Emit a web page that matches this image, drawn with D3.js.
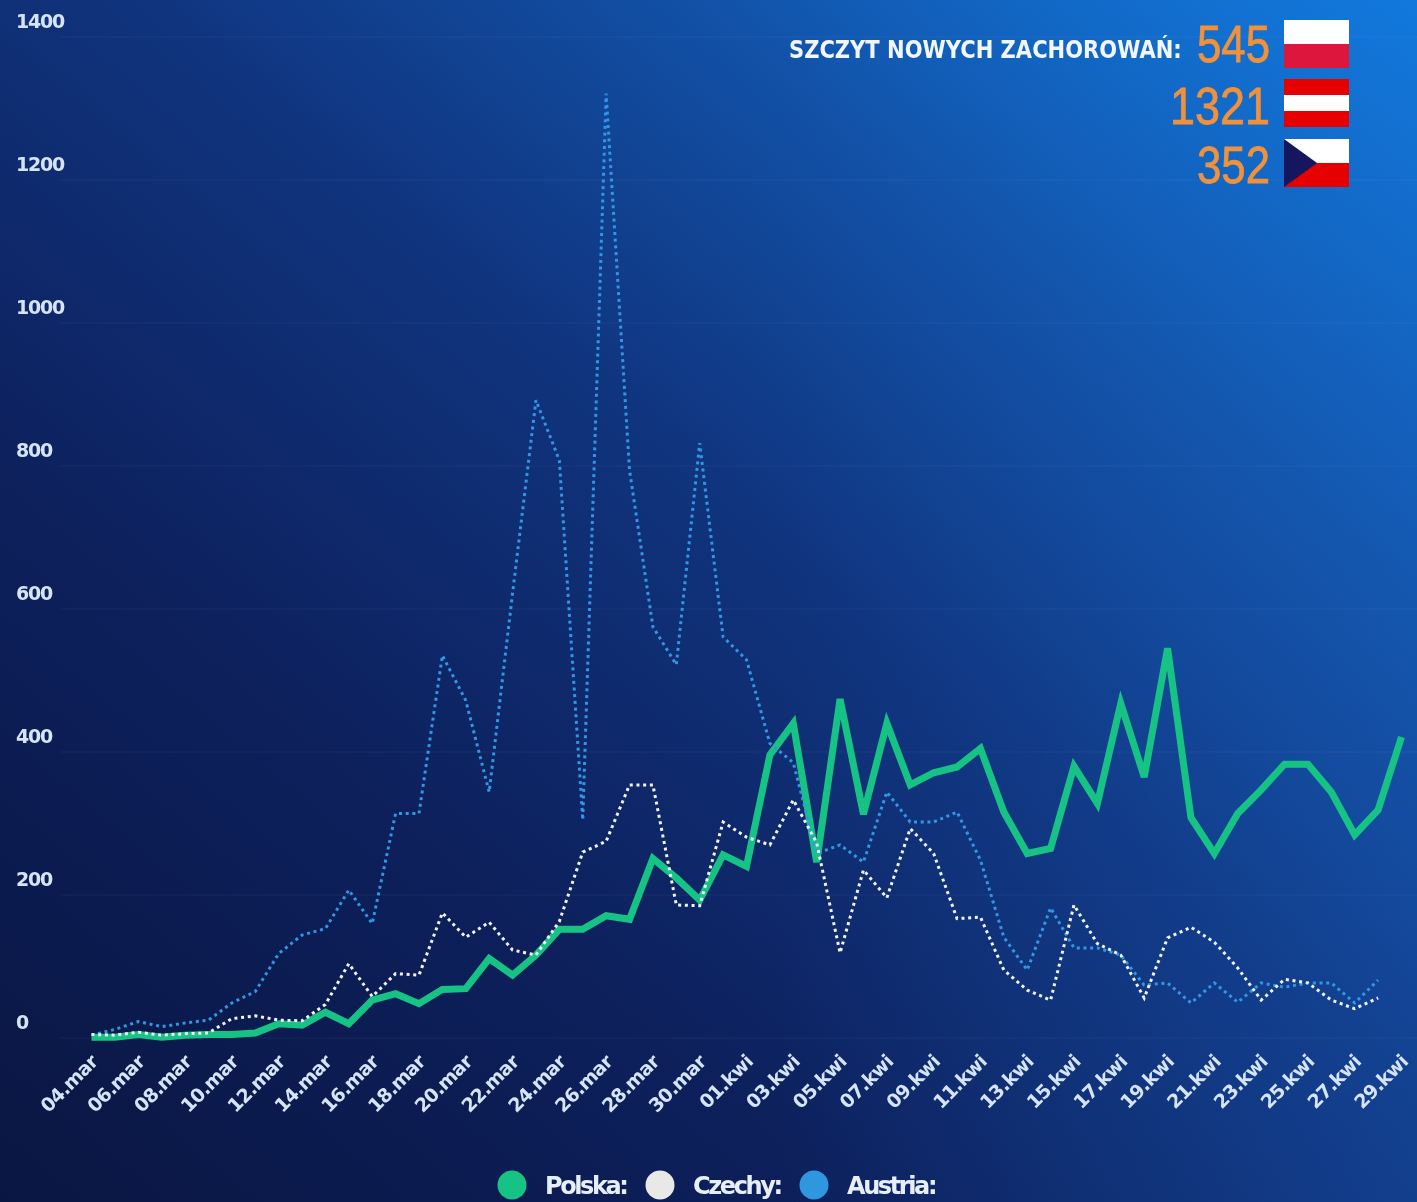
<!DOCTYPE html>
<html><head><meta charset="utf-8">
<script src="https://cdnjs.cloudflare.com/ajax/libs/d3/7.8.5/d3.min.js"></script>
<style>
html,body{margin:0;padding:0;background:#0a1745;overflow:hidden}
svg{display:block}
text{font-family:"DejaVu Sans",sans-serif;font-weight:700}
</style></head><body>
<svg id="c" width="1417" height="1202"></svg>
<script>
const dates=["04.mar","05.mar","06.mar","07.mar","08.mar","09.mar","10.mar","11.mar","12.mar","13.mar","14.mar","15.mar","16.mar","17.mar","18.mar","19.mar","20.mar","21.mar","22.mar","23.mar","24.mar","25.mar","26.mar","27.mar","28.mar","29.mar","30.mar","31.mar","01.kwi","02.kwi","03.kwi","04.kwi","05.kwi","06.kwi","07.kwi","08.kwi","09.kwi","10.kwi","11.kwi","12.kwi","13.kwi","14.kwi","15.kwi","16.kwi","17.kwi","18.kwi","19.kwi","20.kwi","21.kwi","22.kwi","23.kwi","24.kwi","25.kwi","26.kwi","27.kwi","28.kwi","29.kwi"];
const polska=[1,1,5,1,4,5,5,7,20,18,36,20,53,62,48,68,69,111,88,116,152,152,171,166,251,224,193,256,240,396,440,246,474,313,440,354,371,379,405,316,258,265,380,328,468,365,545,308,258,314,347,383,383,344,284,319,421];
const czechy=[5,4,8,4,6,7,27,31,25,24,47,104,58,90,88,175,141,162,123,116,163,260,275,354,354,186,185,302,281,270,333,273,119,235,196,293,258,167,169,95,67,53,186,132,116,56,140,155,134,98,53,82,77,53,41,56];
const austria=[4,12,23,16,21,25,49,65,118,144,153,207,160,314,314,535,472,344,622,892,808,305,1321,794,575,522,832,561,529,412,385,258,270,246,344,302,302,316,249,141,95,182,126,126,116,74,77,49,77,50,77,71,77,77,49,81];
const yTicks=[0,200,400,600,800,1000,1200,1400];
const legendNames=["Polska:","Czechy:","Austria:"];
const peakTitle="SZCZYT NOWYCH ZACHOROWAŃ:";
const peaks=["545","1321","352"];

const svg=d3.select("#c");
const defs=svg.append("defs");
const g1=defs.append("linearGradient").attr("id","bg").attr("x1",0).attr("y1",1).attr("x2",1).attr("y2",0);
[[0,"#0a1642"],[0.3,"#0d205c"],[0.55,"#10347e"],[0.75,"#1252a8"],[1,"#0f82e8"]].forEach(s=>g1.append("stop").attr("offset",s[0]).attr("stop-color",s[1]));
const g2=defs.append("linearGradient").attr("id","side").attr("x1",0).attr("y1",0).attr("x2",1).attr("y2",0);
[[0.55,0],[1,0.3]].forEach(s=>g2.append("stop").attr("offset",s[0]).attr("stop-color","#1a62c0").attr("stop-opacity",s[1]));
defs.append("filter").attr("id","soft").attr("x","-5%").attr("y","-5%").attr("width","110%").attr("height","110%")
  .append("feGaussianBlur").attr("stdDeviation",0.45);
svg.append("rect").attr("width",1417).attr("height",1202).attr("fill","url(#bg)");
svg.append("rect").attr("width",1417).attr("height",1202).attr("fill","url(#side)");
const root=svg.append("g").attr("filter","url(#soft)");

const x=d3.scalePoint().domain(dates).range([91.5,1401.5]);
const y=d3.scaleLinear().domain([0,1400]).range([1038,37]);

const yAxis=root.append("g").call(d3.axisLeft(y).tickValues(yTicks).tickSize(0).tickFormat(d3.format("d")));
yAxis.select(".domain").remove();
yAxis.selectAll("text").attr("x",16).attr("dy",-10).attr("text-anchor","start")
  .attr("fill","#d6e4f8").style("font-size","19px").style("letter-spacing","-1.2px");
root.append("g").selectAll("line").data(yTicks).join("line")
  .attr("x1",60).attr("x2",1417).attr("y1",d=>y(d)).attr("y2",d=>y(d))
  .attr("stroke","#fff").attr("stroke-opacity",0.05);

const xAxis=root.append("g").attr("transform","translate(0,1038)")
  .call(d3.axisBottom(x).tickValues(dates.filter((d,i)=>i%2===0)).tickSize(0));
xAxis.select(".domain").remove();
xAxis.selectAll("text").attr("text-anchor","end").attr("dy",0).attr("y",0)
  .attr("transform","translate(7,25) rotate(-45)")
  .attr("fill","#d6e4f8").style("font-size","19px").style("letter-spacing","-0.7px");

const line=d3.line().x((d,i)=>x(dates[i])).y(d=>y(d));
root.append("path").datum(polska).attr("d",line).attr("fill","none").attr("stroke","#17c384").attr("stroke-width",7).attr("stroke-linejoin","miter");
root.append("path").datum(austria).attr("d",line).attr("fill","none").attr("stroke","#3296e2").attr("stroke-width",3).attr("stroke-dasharray","3 3.7");
root.append("path").datum(czechy).attr("d",line).attr("fill","none").attr("stroke","#f2f5f8").attr("stroke-width",3).attr("stroke-dasharray","3 3.7");

const legX=[512,660,814], legC=["#17c384","#e8e8e6","#2e97e0"];
legendNames.forEach((n,i)=>{
  root.append("circle").attr("cx",legX[i]).attr("cy",1185).attr("r",14.5).attr("fill",legC[i]);
  root.append("text").attr("x",legX[i]+33).attr("y",1194).attr("fill","#e6eefa").style("font-size","24px").style("letter-spacing","-2.4px").text(n);
});

function fit(sel,x0,y0,w){
  const n=sel.node().getComputedTextLength();
  sel.attr("transform",`translate(${x0},${y0}) scale(${w/n},1)`);
}
const title=root.append("text").attr("fill","#f2f7fd").style("font-size","24px").text(peakTitle);
fit(title,789,58,393);
const peakY=[62,124,183], peakW=[73,100,73];
peaks.forEach((p,i)=>{
  const t=root.append("text").attr("fill","#f0913a").attr("stroke","#f0913a").attr("stroke-width",0.8)
    .style("font-family",'"Liberation Sans",sans-serif').style("font-weight",400).style("font-size","52px").text(p);
  fit(t,1270-peakW[i],peakY[i],peakW[i]);
});

const fl=root.append("g");
const fx=1284,fw=65;
const rect=(yy,h,c)=>fl.append("rect").attr("x",fx).attr("y",yy).attr("width",fw).attr("height",h).attr("fill",c);
rect(20,24,"#ffffff");rect(44,24,"#dc143c");
rect(79,16,"#e60000");rect(95,16,"#ffffff");rect(111,16,"#e60000");
rect(139,24,"#ffffff");rect(163,24,"#e60000");
fl.append("path").attr("d",`M${fx},139L${fx+33},163L${fx},187Z`).attr("fill","#14145e");
</script></body></html>
